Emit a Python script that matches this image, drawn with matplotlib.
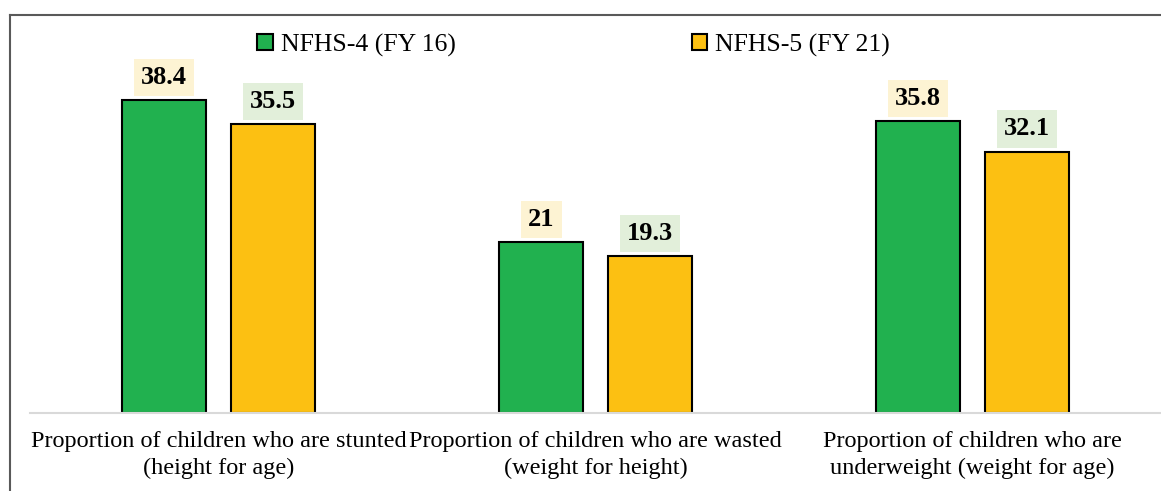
import matplotlib
matplotlib.use("Agg")
import matplotlib.pyplot as plt
import numpy as np
from matplotlib.lines import Line2D

categories = [
    "Proportion of children who are stunted\n(height for age)",
    "Proportion of children who are wasted\n(weight for height)",
    "Proportion of children who are\nunderweight (weight for age)",
]
nfhs4 = [38.4, 21, 35.8]
nfhs5 = [35.5, 19.3, 32.1]
series_names = ["NFHS-4 (FY 16)", "NFHS-5 (FY 21)"]

GREEN = "#21B14F"
YELLOW = "#FCC012"

plt.rcParams["font.family"] = ["Liberation Serif", "DejaVu Serif"]

fig = plt.figure(figsize=(11.61, 4.91), dpi=100)
W, H = 1161, 491
ax = fig.add_axes([30 / W, 78 / H, (W - 30) / W, (413 - 22) / H])

x = np.arange(len(categories))
bw, off = 0.223, 0.144
b1 = ax.bar(x - off, nfhs4, bw, color=GREEN, edgecolor="black", linewidth=1.5,
            label=series_names[0], zorder=2)
b2 = ax.bar(x + off, nfhs5, bw, color=YELLOW, edgecolor="black", linewidth=1.5,
            label=series_names[1], zorder=2)

# value labels in shaded boxes
for bars, vals, fc in [(b1, nfhs4, "#FDF3D3"), (b2, nfhs5, "#E2EFDA")]:
    for r, v in zip(bars, vals):
        ax.annotate(f"{v:g}", (r.get_x() + r.get_width() / 2, r.get_height()),
                    xytext=(0, 8), textcoords="offset points", ha="center", va="bottom",
                    fontsize=19, fontweight="bold",
                    bbox=dict(boxstyle="square,pad=0.27", fc=fc, ec="none"))

ax.set_xlim(-0.5, 2.5)
ax.set_ylim(0, 48)
ax.set_xticks(x)
ax.set_xticklabels(categories, fontsize=17.5, linespacing=1.35)
ax.tick_params(axis="x", length=0, pad=13)
ax.set_yticks([])
for s in ["top", "right", "left"]:
    ax.spines[s].set_visible(False)
ax.spines["bottom"].set_color("#D9D9D9")
ax.spines["bottom"].set_linewidth(1.5)

fig.legend(handles=[b1, b2], loc="center", bbox_to_anchor=(0.494, 0.908), ncol=2,
           frameon=False, fontsize=18.5, handlelength=0.6, handleheight=0.6,
           handletextpad=0.3, columnspacing=9.2)

# outer chart frame (top and left edges visible)
fig.add_artist(Line2D([10 / W, 1], [1 - 15 / H, 1 - 15 / H], color="#595959", lw=1.5))
fig.add_artist(Line2D([10 / W, 10 / W], [0, 1 - 15 / H], color="#595959", lw=1.5))

fig.savefig("out.png", dpi=100)
